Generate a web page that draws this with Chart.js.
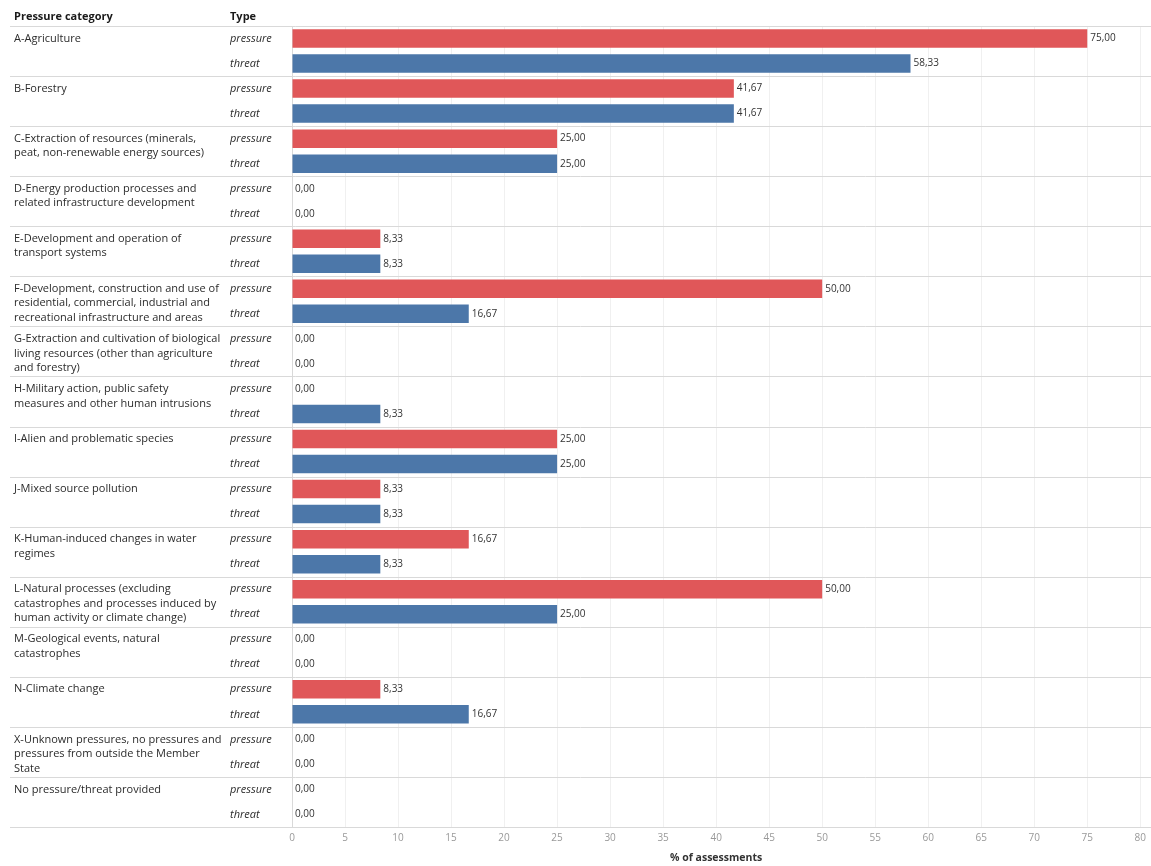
<!DOCTYPE html>
<html>
<head>
<meta charset="utf-8">
<script src="https://cdn.jsdelivr.net/npm/chart.js@4.4.1/dist/chart.umd.min.js"></script>
<style>
  body { margin: 0; background: #fff; }
  #wrap { width: 1151px; height: 866px; position: relative; }
</style>
</head>
<body>
<div id="wrap"><canvas id="chart"></canvas></div>
<script>
// categories (each one is drawn over two rows: pressure and threat)
const categories = [
  ['A-Agriculture'],
  ['B-Forestry'],
  ['C-Extraction of resources (minerals,', 'peat, non-renewable energy sources)'],
  ['D-Energy production processes and', 'related infrastructure development'],
  ['E-Development and operation of', 'transport systems'],
  ['F-Development, construction and use of', 'residential, commercial, industrial and', 'recreational infrastructure and areas'],
  ['G-Extraction and cultivation of biological', 'living resources (other than agriculture', 'and forestry)'],
  ['H-Military action, public safety', 'measures and other human intrusions'],
  ['I-Alien and problematic species'],
  ['J-Mixed source pollution'],
  ['K-Human-induced changes in water', 'regimes'],
  ['L-Natural processes (excluding', 'catastrophes and processes induced by', 'human activity or climate change)'],
  ['M-Geological events, natural', 'catastrophes'],
  ['N-Climate change'],
  ['X-Unknown pressures, no pressures and', 'pressures from outside the Member', 'State'],
  ['No pressure/threat provided']
];
const types = ['pressure', 'threat'];
const pressureValues = [75, 41.67, 25, 0, 8.33, 50, 0, 0, 25, 8.33, 16.67, 50, 0, 8.33, 0, 0];
const threatValues   = [58.33, 41.67, 25, 0, 8.33, 16.67, 0, 8.33, 25, 8.33, 8.33, 25, 0, 16.67, 0, 0];
const xTicks = [0, 80, 5]; // min, max, step

const RED = '#e05759';
const BLUE = '#4c77a9';
const FONT = '"Open Sans", sans-serif';

// one row per category/type pair
const rowLabels = [];
const rowValues = [];
const rowColors = [];
categories.forEach((c, i) => {
  rowLabels.push(types[0], types[1]);
  rowValues.push(pressureValues[i], threatValues[i]);
  rowColors.push(RED, BLUE);
});

// left side text, separators and value labels
const tablePlugin = {
  id: 'tablePlugin',
  afterDraw(chart) {
    const ctx = chart.ctx;
    const y = chart.scales.y;
    const x = chart.scales.x;
    const area = chart.chartArea;
    ctx.save();

    // header
    ctx.fillStyle = '#1a1a1a';
    ctx.font = 'bold 11px ' + FONT;
    ctx.textBaseline = 'middle';
    ctx.textAlign = 'left';
    ctx.fillText('Pressure category', 14, 17);
    ctx.fillText('Type', 230, 17);

    // separators
    ctx.strokeStyle = '#d9d9d9';
    ctx.lineWidth = 1;
    const half = (y.getPixelForValue(1) - y.getPixelForValue(0)) / 2;
    for (let i = 0; i <= categories.length; i++) {
      let yy = i === 0 ? area.top : y.getPixelForValue(i * 2 - 1) + half;
      yy = Math.round(yy) + 0.5;
      ctx.beginPath();
      ctx.moveTo(10, yy);
      ctx.lineTo(1151, yy);
      ctx.stroke();
    }

    // category labels
    ctx.fillStyle = '#2b2b2b';
    ctx.font = '11px ' + FONT;
    categories.forEach((lines, i) => {
      const top = y.getPixelForValue(i * 2);
      lines.forEach((line, j) => {
        ctx.fillText(line, 14, top + j * 14.5);
      });
    });

    // value labels
    ctx.font = '10px ' + FONT;
    ctx.fillStyle = '#333';
    rowValues.forEach((v, i) => {
      const px = x.getPixelForValue(v);
      ctx.fillText(v.toFixed(2).replace('.', ','), px + 3, y.getPixelForValue(i));
    });
    ctx.restore();
  }
};

new Chart(document.getElementById('chart'), {
  type: 'bar',
  data: {
    labels: rowLabels,
    datasets: [{
      data: rowValues,
      backgroundColor: rowColors,
      borderWidth: 0,
      categoryPercentage: 1,
      barPercentage: 0.74
    }]
  },
  options: {
    indexAxis: 'y',
    responsive: true,
    maintainAspectRatio: false,
    animation: false,
    devicePixelRatio: 1,
    layout: { padding: { left: 230, top: 26, right: 10, bottom: 0 } },
    plugins: {
      legend: { display: false },
      tooltip: { enabled: false }
    },
    scales: {
      x: {
        min: xTicks[0],
        max: xTicks[1],
        afterFit(scale) { scale.height = 39; },
        ticks: {
          stepSize: xTicks[2],
          color: '#999',
          font: { family: FONT, size: 10 },
          padding: 5,
          maxRotation: 0
        },
        grid: { color: '#f0f0f0', drawTicks: false },
        border: { color: '#d9d9d9' },
        title: {
          display: true,
          text: '% of assessments',
          color: '#333',
          font: { family: FONT, size: 10.5, weight: 'bold' },
          padding: { top: 4, bottom: 2 }
        }
      },
      y: {
        afterFit(scale) { scale.width = 62; },
        ticks: {
          crossAlign: 'far',
          color: '#2b2b2b',
          font: { family: FONT, size: 11, style: 'italic' }
        },
        grid: { display: false },
        border: { color: '#d9d9d9' }
      }
    }
  },
  plugins: [tablePlugin]
});
</script>
</body>
</html>
